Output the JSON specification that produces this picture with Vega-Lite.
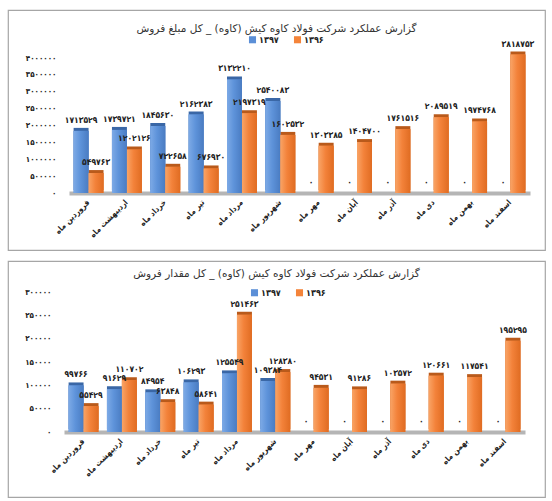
{
  "$schema": "https://vega.github.io/schema/vega-lite/v6.json",
  "background": "white",
  "padding": {"left": 7, "top": 9, "right": 0, "bottom": 0},
  "spacing": 9,
  "datasets": {
    "amount": [
      {"month": "فروردین ماه", "year": "۱۳۹۷", "value": 1713529},
      {"month": "فروردین ماه", "year": "۱۳۹۶", "value": 549763},
      {"month": "اردیبهشت ماه", "year": "۱۳۹۷", "value": 1739721},
      {"month": "اردیبهشت ماه", "year": "۱۳۹۶", "value": 1202126},
      {"month": "خرداد ماه", "year": "۱۳۹۷", "value": 1845630},
      {"month": "خرداد ماه", "year": "۱۳۹۶", "value": 722658},
      {"month": "تیر ماه", "year": "۱۳۹۷", "value": 2162383},
      {"month": "تیر ماه", "year": "۱۳۹۶", "value": 676930},
      {"month": "مرداد ماه", "year": "۱۳۹۷", "value": 3132210},
      {"month": "مرداد ماه", "year": "۱۳۹۶", "value": 2197319},
      {"month": "شهریور ماه", "year": "۱۳۹۷", "value": 2540083},
      {"month": "شهریور ماه", "year": "۱۳۹۶", "value": 1602532},
      {"month": "مهر ماه", "year": "۱۳۹۷", "value": 0},
      {"month": "مهر ماه", "year": "۱۳۹۶", "value": 1303385},
      {"month": "آبان ماه", "year": "۱۳۹۷", "value": 0},
      {"month": "آبان ماه", "year": "۱۳۹۶", "value": 1404700},
      {"month": "آذر ماه", "year": "۱۳۹۷", "value": 0},
      {"month": "آذر ماه", "year": "۱۳۹۶", "value": 1761516},
      {"month": "دی ماه", "year": "۱۳۹۷", "value": 0},
      {"month": "دی ماه", "year": "۱۳۹۶", "value": 2089519},
      {"month": "بهمن ماه", "year": "۱۳۹۷", "value": 0},
      {"month": "بهمن ماه", "year": "۱۳۹۶", "value": 1974768},
      {"month": "اسفند ماه", "year": "۱۳۹۷", "value": 0},
      {"month": "اسفند ماه", "year": "۱۳۹۶", "value": 3818753}
    ],
    "quantity": [
      {"month": "فروردین ماه", "year": "۱۳۹۷", "value": 99766},
      {"month": "فروردین ماه", "year": "۱۳۹۶", "value": 55429},
      {"month": "اردیبهشت ماه", "year": "۱۳۹۷", "value": 91629},
      {"month": "اردیبهشت ماه", "year": "۱۳۹۶", "value": 110702},
      {"month": "خرداد ماه", "year": "۱۳۹۷", "value": 84954},
      {"month": "خرداد ماه", "year": "۱۳۹۶", "value": 63848},
      {"month": "تیر ماه", "year": "۱۳۹۷", "value": 106293},
      {"month": "تیر ماه", "year": "۱۳۹۶", "value": 58641},
      {"month": "مرداد ماه", "year": "۱۳۹۷", "value": 125549},
      {"month": "مرداد ماه", "year": "۱۳۹۶", "value": 251463},
      {"month": "شهریور ماه", "year": "۱۳۹۷", "value": 109384},
      {"month": "شهریور ماه", "year": "۱۳۹۶", "value": 128380},
      {"month": "مهر ماه", "year": "۱۳۹۷", "value": 0},
      {"month": "مهر ماه", "year": "۱۳۹۶", "value": 94531},
      {"month": "آبان ماه", "year": "۱۳۹۷", "value": 0},
      {"month": "آبان ماه", "year": "۱۳۹۶", "value": 91286},
      {"month": "آذر ماه", "year": "۱۳۹۷", "value": 0},
      {"month": "آذر ماه", "year": "۱۳۹۶", "value": 103572},
      {"month": "دی ماه", "year": "۱۳۹۷", "value": 0},
      {"month": "دی ماه", "year": "۱۳۹۶", "value": 120661},
      {"month": "بهمن ماه", "year": "۱۳۹۷", "value": 0},
      {"month": "بهمن ماه", "year": "۱۳۹۶", "value": 117541},
      {"month": "اسفند ماه", "year": "۱۳۹۷", "value": 0},
      {"month": "اسفند ماه", "year": "۱۳۹۶", "value": 195295}
    ]
  },
  "vconcat": [
    {
      "width": 537,
      "height": 240,
      "data": {"name": "amount"},
      "title": {"text": "گزارش عملکرد شرکت فولاد کاوه کیش (کاوه) _ کل مبلغ فروش", "offset": -32, "baseline": "alphabetic"},
      "encoding": {
        "x": {"field": "month", "type": "nominal", "sort": null, "title": null,
          "scale": {"range": [61, 522], "paddingInner": 0.22, "paddingOuter": 0.12},
          "axis": {"offset": -57, "labelPadding": 8}},
        "xOffset": {"field": "year", "type": "nominal", "sort": ["۱۳۹۷", "۱۳۹۶"]}
      },
      "layer": [
        {"mark": {"type": "point", "opacity": 0},
          "encoding": {
            "y": {"field": "value", "type": "quantitative", "title": null,
              "scale": {"domain": [0, 4000000], "range": [183, 48], "nice": false},
              "axis": {"offset": -50, "values": [0, 500000, 1000000, 1500000, 2000000, 2500000, 3000000, 3500000, 4000000]}}}},
        {"mark": {"type": "bar", "xOffset": 3, "yOffset": -3, "y2Offset": -3},
          "encoding": {
            "y": {"field": "value", "type": "quantitative", "scale": {"domain": [0, 4000000], "range": [183, 38], "nice": false}, "axis": null},
            "color": {"condition": {"test": "datum.year === '۱۳۹۷'", "value": "#3A67A6"}, "value": "#B95A1B"}}},
        {"mark": {"type": "bar"},
          "encoding": {
            "y": {"field": "value", "type": "quantitative", "scale": {"domain": [0, 4000000], "range": [183, 38], "nice": false}, "axis": null},
            "color": {"field": "year", "type": "nominal", "title": null,
              "scale": {"domain": ["۱۳۹۷", "۱۳۹۶"], "range": ["#5B8FD7", "#F4843A"]},
              "legend": {"orient": "none", "legendX": 240, "legendY": 25, "direction": "horizontal"}}}},
        {"mark": {"type": "bar"},
          "encoding": {
            "y": {"field": "value", "type": "quantitative", "scale": {"domain": [0, 4000000], "range": [183, 38], "nice": false}, "axis": null},
            "color": {"condition": {"test": "datum.year === '۱۳۹۷'",
              "value": {"gradient": "linear", "x1": 0, "x2": 1, "y1": 0, "y2": 0, "stops": [{"offset": 0, "color": "#7DAAE6"}, {"offset": 0.45, "color": "#5E93DA"}, {"offset": 1, "color": "#4A7CC2"}]}},
              "value": {"gradient": "linear", "x1": 0, "x2": 1, "y1": 0, "y2": 0, "stops": [{"offset": 0, "color": "#F9A466"}, {"offset": 0.45, "color": "#F3823A"}, {"offset": 1, "color": "#E06C22"}]}}}},
        {"mark": {"type": "text", "baseline": "bottom", "dy": -6, "font": "DejaVu Sans Condensed", "fontSize": 8.5, "fontWeight": "bold"},
          "encoding": {
            "y": {"field": "value", "type": "quantitative", "scale": {"domain": [0, 4000000], "range": [183, 38], "nice": false}, "axis": null},
            "text": {"field": "value", "type": "quantitative", "format": "d"}, "color": {"value": "#222"}}}
      ],
      "resolve": {"scale": {"y": "independent"}, "axis": {"y": "independent"}}
    },
    {
      "width": 537,
      "height": 236,
      "data": {"name": "quantity"},
      "title": {"text": "گزارش عملکرد شرکت فولاد کاوه کیش (کاوه) _ کل مقدار فروش", "offset": -26, "baseline": "alphabetic"},
      "encoding": {
        "x": {"field": "month", "type": "nominal", "sort": null, "title": null,
          "scale": {"range": [56, 517], "paddingInner": 0.22, "paddingOuter": 0.12},
          "axis": {"offset": -65, "labelPadding": 8}},
        "xOffset": {"field": "year", "type": "nominal", "sort": ["۱۳۹۷", "۱۳۹۶"]},
        "y": {"field": "value", "type": "quantitative", "title": null,
          "scale": {"domain": [0, 300000], "range": [171, 31], "nice": false},
          "axis": {"offset": -45, "values": [0, 50000, 100000, 150000, 200000, 250000, 300000]}}
      },
      "layer": [
        {"mark": {"type": "bar", "xOffset": 3, "yOffset": -3, "y2Offset": -3},
          "encoding": {
            "color": {"condition": {"test": "datum.year === '۱۳۹۷'", "value": "#3A67A6"}, "value": "#B95A1B"}}},
        {"mark": {"type": "bar"},
          "encoding": {
            "color": {"field": "year", "type": "nominal", "title": null,
              "scale": {"domain": ["۱۳۹۷", "۱۳۹۶"], "range": ["#5B8FD7", "#F4843A"]},
              "legend": {"orient": "none", "legendX": 242, "legendY": 27, "direction": "horizontal"}}}},
        {"mark": {"type": "bar"},
          "encoding": {
            "color": {"condition": {"test": "datum.year === '۱۳۹۷'",
              "value": {"gradient": "linear", "x1": 0, "x2": 1, "y1": 0, "y2": 0, "stops": [{"offset": 0, "color": "#7DAAE6"}, {"offset": 0.45, "color": "#5E93DA"}, {"offset": 1, "color": "#4A7CC2"}]}},
              "value": {"gradient": "linear", "x1": 0, "x2": 1, "y1": 0, "y2": 0, "stops": [{"offset": 0, "color": "#F9A466"}, {"offset": 0.45, "color": "#F3823A"}, {"offset": 1, "color": "#E06C22"}]}}}},
        {"mark": {"type": "text", "baseline": "bottom", "dy": -6, "font": "DejaVu Sans Condensed", "fontSize": 8.5, "fontWeight": "bold"},
          "encoding": {"text": {"field": "value", "type": "quantitative", "format": "d"}, "color": {"value": "#222"}}}
      ]
    }
  ],
  "resolve": {"scale": {"color": "independent"}},
  "config": {
    "locale": {"number": {"decimal": ".", "thousands": "", "grouping": [3], "currency": ["", ""], "numerals": ["۰", "۱", "۲", "۳", "۴", "۵", "۶", "۷", "۸", "۹"]}},
    "font": "DejaVu Sans",
    "view": {"stroke": "#A6A6A6", "strokeWidth": 1.2},
    "title": {"fontSize": 10.5, "fontWeight": "normal", "color": "#333", "anchor": "middle", "frame": "group"},
    "axis": {"grid": false, "ticks": false, "tickSize": 0, "labelColor": "#222", "labelFontSize": 8, "labelFontWeight": "bold", "labelFont": "DejaVu Sans Condensed"},
    "axisY": {"domain": false, "labelPadding": 2, "format": "d"},
    "axisX": {"domain": true, "domainColor": "#B5B5B5", "domainWidth": 4, "labelAngle": -45, "labelAlign": "right", "labelBaseline": "middle"},
    "legend": {"symbolType": "square", "symbolSize": 50, "labelFontSize": 9, "labelFontWeight": "bold", "labelColor": "#222", "columnPadding": 14, "labelOffset": 2, "symbolStrokeWidth": 0, "labelFont": "DejaVu Sans Condensed"}
  }
}
